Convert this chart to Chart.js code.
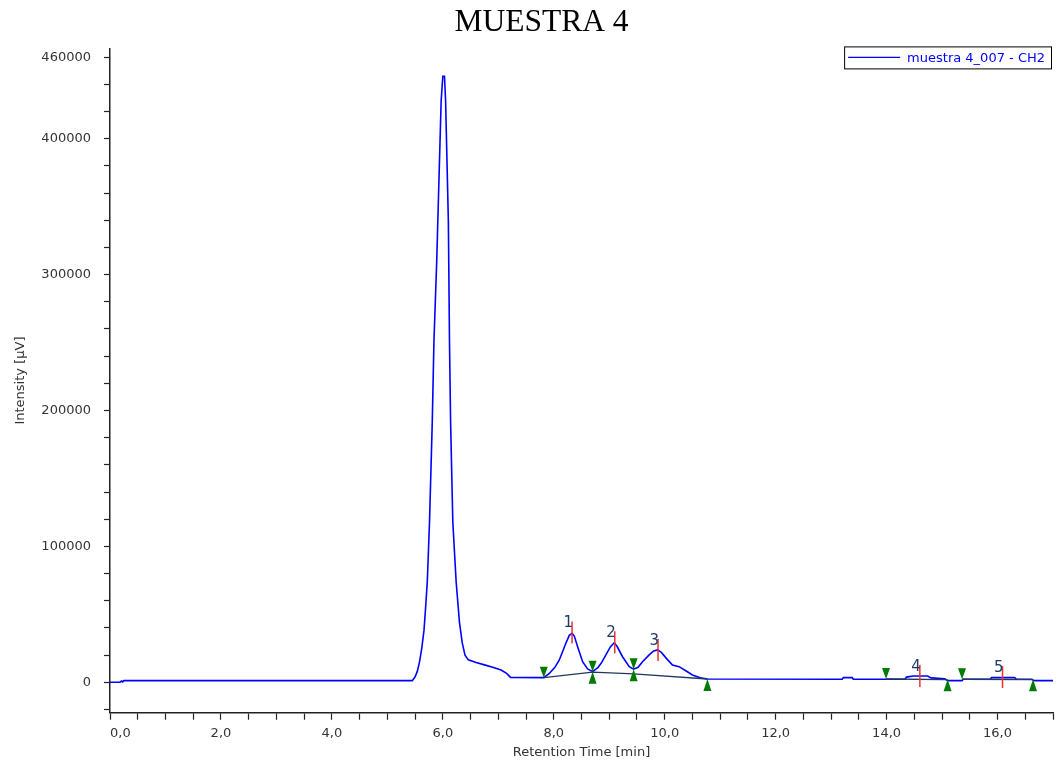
<!DOCTYPE html>
<html>
<head>
<meta charset="utf-8">
<title>MUESTRA 4</title>
<script src="https://cdn.jsdelivr.net/npm/chart.js@4.4.1/dist/chart.umd.min.js"></script>
<style>
  html, body { margin: 0; padding: 0; background: #fff; }
</style>
</head>
<body>
<canvas id="chromatogram" width="1060" height="763"></canvas>
<script>
// trace (min, µV)
const retentionTime = [
  0.00, 0.18, 0.21, 0.23, 0.25, 5.45, 5.50, 5.54, 5.58, 5.62, 5.66, 5.69, 5.72, 5.76, 5.81,
  5.84, 5.89, 5.94, 5.97, 6.00, 6.03, 6.05, 6.10, 6.12, 6.14, 6.18, 6.24, 6.30, 6.35, 6.40,
  6.46, 6.60, 6.75, 6.90, 7.05, 7.15, 7.22, 7.82, 7.92, 8.02, 8.10, 8.22, 8.28, 8.33, 8.37,
  8.43, 8.52, 8.61, 8.70, 8.80, 8.87, 8.94, 9.02, 9.09, 9.14, 9.24, 9.36, 9.44, 9.52, 9.60,
  9.72, 9.80, 9.87, 9.94, 10.03, 10.14, 10.26, 10.38, 10.50, 10.64, 10.77, 13.20, 13.22, 13.38, 13.40,
  14.33, 14.36, 14.48, 14.74, 14.80, 15.05, 15.10, 15.36, 15.38, 15.87, 15.89, 16.31, 16.34, 16.62, 16.66,
  17.00
];
const intensity = [
  0, 0, 900, 300, 1200, 1200, 4000, 8000, 15000, 25000, 38000, 55000, 74000, 118000, 192000,
  251000, 310000, 384000, 428000, 446000, 446000, 428000, 339000, 251000, 192000, 118000, 74000, 44000, 29000, 20000,
  16500, 14500, 12800, 11000, 9000, 6500, 3600, 3400, 6500, 11000, 16400, 28900, 34500, 36000, 34000,
  26200, 15100, 9800, 7800, 11000, 15000, 20100, 26000, 29100, 26500, 18800, 11500, 9600, 11000, 15100,
  20100, 23000, 23800, 22000, 17600, 12700, 11500, 8500, 5400, 3300, 2400, 2200, 3400, 3400, 2200,
  2200, 3800, 4600, 4600, 3200, 2600, 1200, 1200, 2200, 2200, 3400, 3400, 2200, 2200, 1200,
  1200
];

// integrated peaks
const peakNumbers = ['1', '2', '3', '4', '5'];
const peakTimes = [8.33, 9.10, 9.88, 14.60, 16.09];
const peakHeights = [36600, 29500, 23800, 4700, 3800];
const startTimes = [7.82, 8.70, 9.44, 13.99, 15.36];
const startValues = [3400, 7800, 9600, 2400, 2200];
const endTimes = [8.70, 9.44, 10.77, 15.10, 16.64];
const endValues = [7800, 9600, 2400, 2200, 2200];

// baselines drawn under the peaks
const baselineTimes = [[7.82, 8.70, 9.44, 10.77], [13.99, 15.10], [15.36, 16.64]];
const baselineValues = [[3400, 7400, 6100, 2400], [2400, 2000], [2200, 2000]];

// axes
const xLabelled = [0, 2, 4, 6, 8, 10, 12, 14, 16];
const yLabelled = [0, 100000, 200000, 300000, 400000, 460000];

const AXIS = '#222';
const TEXT = '#333';
const FONT = 'DejaVu Sans';

const datasets = [{
  label: 'muestra 4_007 - CH2',
  data: retentionTime.map((t, i) => ({ x: t, y: intensity[i] })),
  borderColor: '#0000ff',
  borderWidth: 1.6,
  pointRadius: 0,
  tension: 0,
  order: 2
}];
baselineTimes.forEach((times, k) => {
  datasets.push({
    label: 'baseline ' + (k + 1),
    data: times.map((t, i) => ({ x: t, y: baselineValues[k][i] })),
    borderColor: '#1f3a5c',
    borderWidth: 1.3,
    pointRadius: 0,
    tension: 0,
    order: 1
  });
});

// red apex marks, peak numbers, start/end triangles
const peakMarks = {
  id: 'peakMarks',
  afterDatasetsDraw(chart) {
    const { ctx, scales: { x, y } } = chart;
    ctx.save();

    peakNumbers.forEach((n, i) => {
      const px = x.getPixelForValue(peakTimes[i]);
      const top = y.getPixelForValue(peakHeights[i]) - 11;
      const bottom = y.getPixelForValue(peakHeights[i]) + 11;
      ctx.strokeStyle = '#f03030';
      ctx.lineWidth = 1.5;
      ctx.beginPath();
      ctx.moveTo(px, top);
      ctx.lineTo(px, bottom);
      ctx.stroke();

      ctx.fillStyle = '#1f3a66';
      ctx.font = '15px ' + FONT;
      ctx.textAlign = 'right';
      ctx.textBaseline = 'middle';
      ctx.fillText(n, px + 1, top + 2);
    });

    ctx.fillStyle = '#007a00';
    startTimes.forEach((t, i) => {
      const px = x.getPixelForValue(t);
      const py = y.getPixelForValue(startValues[i]);
      ctx.beginPath();
      ctx.moveTo(px, py);
      ctx.lineTo(px - 4, py - 11);
      ctx.lineTo(px + 4, py - 11);
      ctx.closePath();
      ctx.fill();
    });
    endTimes.forEach((t, i) => {
      const px = x.getPixelForValue(t);
      const py = y.getPixelForValue(endValues[i]);
      ctx.beginPath();
      ctx.moveTo(px, py);
      ctx.lineTo(px - 4, py + 12);
      ctx.lineTo(px + 4, py + 12);
      ctx.closePath();
      ctx.fill();
    });
    ctx.restore();
  }
};

// boxed legend in the top right corner of the plot
const boxLegend = {
  id: 'boxLegend',
  afterDraw(chart) {
    const { ctx, chartArea } = chart;
    const label = chart.data.datasets[0].label;
    ctx.save();
    ctx.font = '13px ' + FONT;
    const textW = ctx.measureText(label).width;
    const w = 4 + 52 + 7 + textW + 6;
    const h = 22;
    const right = chartArea.right - 2;
    const left = right - w;
    const top = chartArea.top - 2;
    ctx.fillStyle = '#fff';
    ctx.fillRect(left, top, w, h);
    ctx.strokeStyle = '#000';
    ctx.lineWidth = 1;
    ctx.strokeRect(left + 0.5, top + 0.5, w, h);
    ctx.strokeStyle = '#0000ff';
    ctx.lineWidth = 1.2;
    ctx.beginPath();
    ctx.moveTo(left + 4, top + h / 2);
    ctx.lineTo(left + 56, top + h / 2);
    ctx.stroke();
    ctx.fillStyle = '#0000ff';
    ctx.textAlign = 'left';
    ctx.textBaseline = 'middle';
    ctx.fillText(label, left + 63, top + h / 2 + 1);
    ctx.restore();
  }
};

new Chart(document.getElementById('chromatogram'), {
  type: 'line',
  data: { datasets: datasets },
  options: {
    responsive: false,
    animation: false,
    events: [],
    layout: { padding: { left: 30, right: 7, top: 0, bottom: 0 } },
    plugins: {
      legend: { display: false },
      tooltip: { enabled: false },
      title: {
        display: true,
        text: 'MUESTRA 4',
        color: '#000',
        font: { family: 'Liberation Serif', size: 31.5, weight: 'normal' },
        padding: { top: 4, bottom: 6.6 }
      }
    },
    scales: {
      x: {
        type: 'linear',
        min: 0,
        max: 17,
        border: { color: AXIS, width: 1.5 },
        grid: { drawOnChartArea: false, tickLength: 7, tickColor: AXIS, tickWidth: 1.2 },
        afterBuildTicks(scale) {
          const ticks = [];
          for (let v = 0; v <= 17; v += 0.5) ticks.push({ value: v });
          scale.ticks = ticks;
        },
        afterFit(scale) { scale.height = 50.3; },
        ticks: {
          autoSkip: false,
          maxRotation: 0,
          align: 'inner',
          padding: 6,
          color: TEXT,
          font: { family: FONT, size: 13 },
          callback: v => xLabelled.includes(v) ? v.toFixed(1).replace('.', ',') : ''
        },
        title: {
          display: true,
          text: 'Retention Time [min]',
          color: TEXT,
          font: { family: FONT, size: 13 },
          padding: { top: 3, bottom: 3 }
        }
      },
      y: {
        min: -22400,
        max: 466500,
        border: { color: AXIS, width: 1.5 },
        grid: { drawOnChartArea: false, tickLength: 6, tickColor: AXIS, tickWidth: 1.2 },
        afterBuildTicks(scale) {
          const ticks = [];
          for (let v = -20000; v <= 460000; v += 20000) ticks.push({ value: v });
          scale.ticks = ticks;
        },
        afterFit(scale) { scale.width = 80; },
        ticks: {
          autoSkip: false,
          padding: 13,
          color: TEXT,
          font: { family: FONT, size: 13 },
          callback: v => yLabelled.includes(v) ? String(v) : ''
        },
        title: {
          display: true,
          text: 'Intensity [µV]',
          color: TEXT,
          font: { family: FONT, size: 13 },
          padding: { top: -16.8, bottom: 0 }
        }
      }
    }
  },
  plugins: [peakMarks, boxLegend]
});
</script>
</body>
</html>
